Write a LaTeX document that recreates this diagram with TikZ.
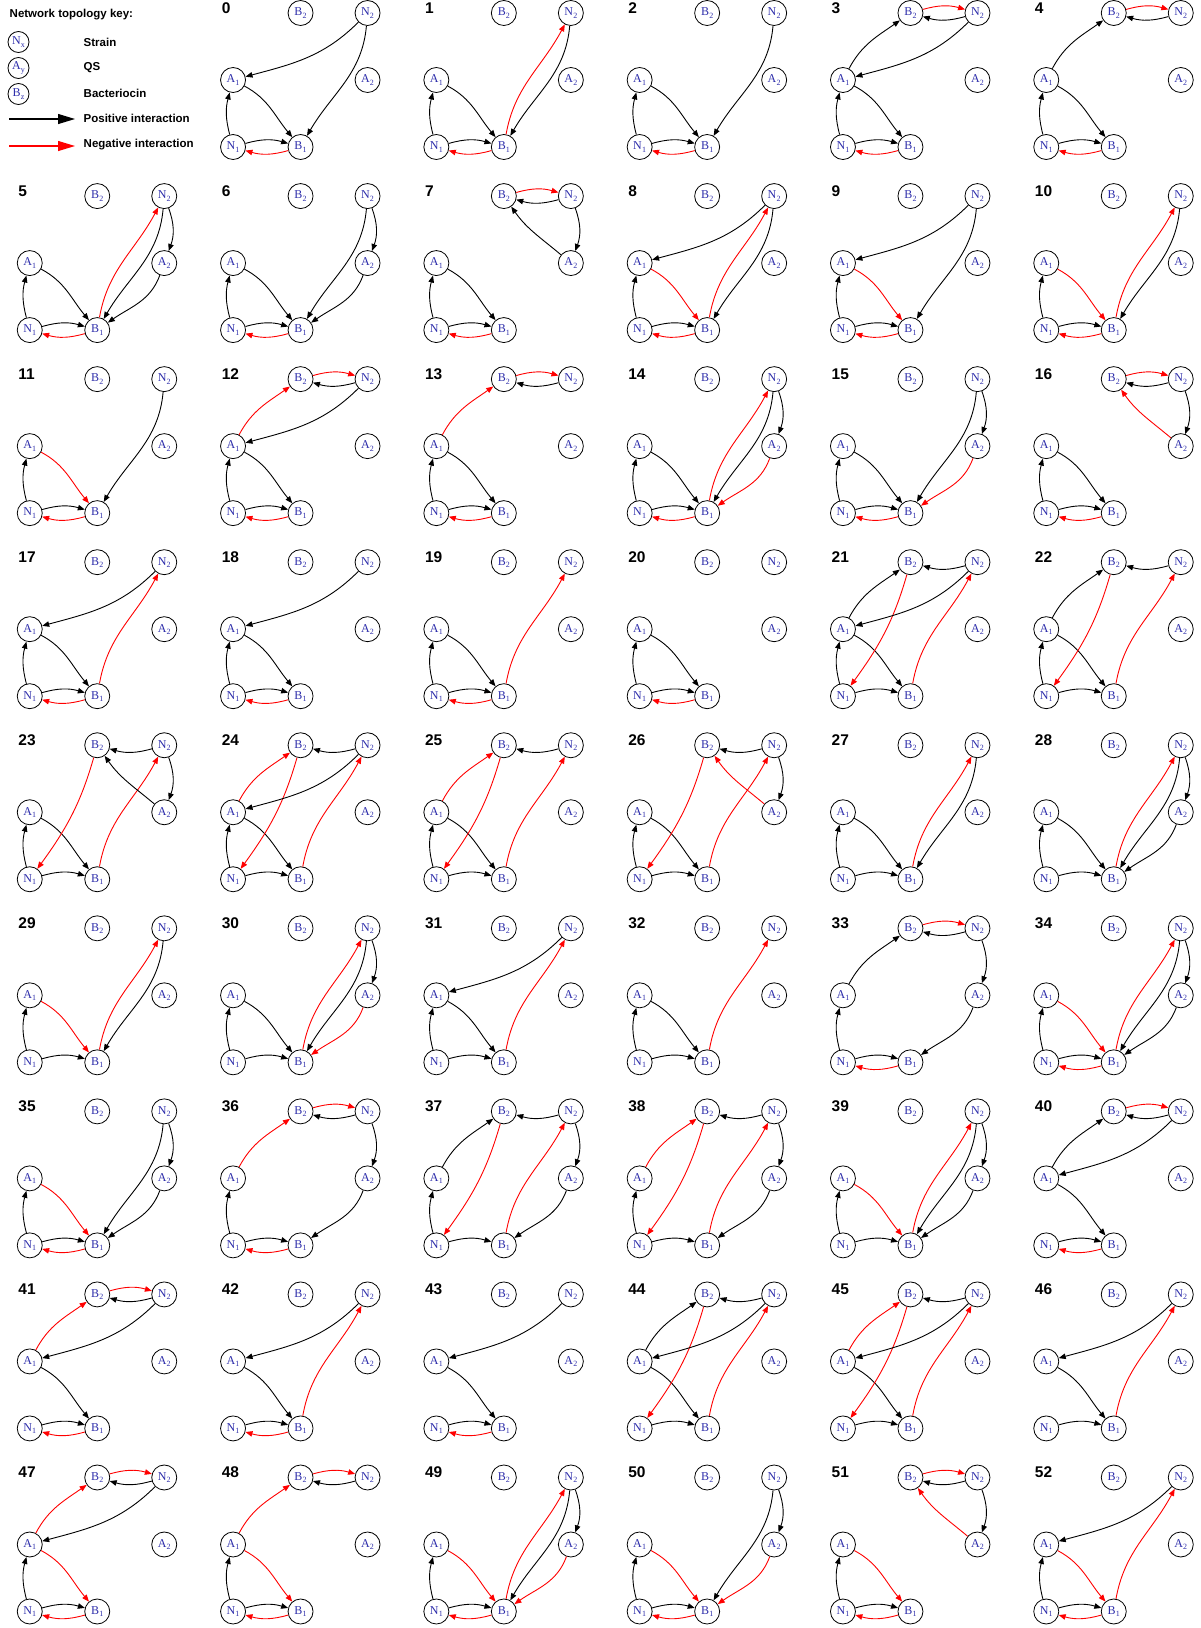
\documentclass[tikz,border=0pt]{standalone}
\usepackage{fontspec}
\setmainfont{Liberation Serif}
\newfontfamily\hv{Liberation Sans}
\usetikzlibrary{arrows.meta}
\definecolor{nodeblue}{RGB}{45,45,170}
\newcommand\sublab[2]{#1\kern0.2pt\raisebox{-0.4ex}{\fontsize{8}{8}\selectfont #2}}
\tikzset{
  nd/.style={circle,draw,line width=0.8pt,minimum size=25pt,inner sep=0pt,text=nodeblue,font=\fontsize{12}{12}\selectfont},
  keynd/.style={nd,minimum size=21pt},
  poslink/.style={line width=0.9pt,-{Triangle[length=7pt,width=5.5pt]}},
  neglink/.style={poslink,red},
  keyarrow/.style={line width=1.1pt,-{Triangle[length=17pt,width=10pt]}},
  numlab/.style={anchor=west,inner sep=0pt,font=\hv\bfseries\fontsize{15.5}{15.5}\selectfont},
  keytxt/.style={anchor=west,inner sep=0pt,font=\hv\bfseries\fontsize{11.5}{11.5}\selectfont},
}
% edge macros (#1 = panel prefix)
\newcommand\ena[1]{\draw[poslink] (#1N1) to[bend left=15] (#1A1);}
\newcommand\eab[1]{\draw[poslink] (#1A1) to[out=-28,in=130] (#1B1);}
\newcommand\eabR[1]{\draw[neglink] (#1A1) to[out=-28,in=130] (#1B1);}
\newcommand\enb[1]{\draw[poslink] (#1N1) to[bend left=16] (#1B1);}
\newcommand\ebn[1]{\draw[neglink] (#1B1) to[bend left=16] (#1N1);}
\newcommand\eXA[1]{\draw[poslink] (#1N2) to[out=-135,in=15] (#1A1);}
\newcommand\eXB[1]{\draw[poslink] (#1N2) to[out=-95,in=60] (#1B1);}
\newcommand\eBX[1]{\draw[neglink] (#1B1) to[out=80,in=-118] (#1N2);}
\newcommand\eXY[1]{\draw[poslink] (#1N2) to[bend left=20] (#1A2);}
\newcommand\eYB[1]{\draw[poslink] (#1A2) to[out=-110,in=35] (#1B1);}
\newcommand\eYBR[1]{\draw[neglink] (#1A2) to[out=-110,in=35] (#1B1);}
\newcommand\eZX[1]{\draw[neglink] (#1B2) to[bend left=16] (#1N2);}
\newcommand\eXZ[1]{\draw[poslink] (#1N2) to[bend left=16] (#1B2);}
\newcommand\eAZ[1]{\draw[poslink] (#1A1) to[out=62,in=-145] (#1B2);}
\newcommand\eAZR[1]{\draw[neglink] (#1A1) to[out=62,in=-145] (#1B2);}
\newcommand\eZN[1]{\draw[neglink] (#1B2) to[out=-106,in=54] (#1N1);}
\newcommand\eYZ[1]{\draw[poslink] (#1A2) to[out=140,in=-55] (#1B2);}
\newcommand\eYZR[1]{\draw[neglink] (#1A2) to[out=140,in=-55] (#1B2);}
\newcommand\panel[2]{%
  \pgfmathtruncatemacro\pidx{#1+1}%
  \pgfmathtruncatemacro\pcol{mod(\pidx,6)}%
  \pgfmathtruncatemacro\prow{(\pidx-\pcol)/6}%
  \pgfmathsetmacro\px{29.75+203.3*\pcol}%
  \pgfmathsetmacro\py{-80-183.06*\prow}%
  \begin{scope}[shift={(\px,\py)}]
    \node[numlab] (p#1L) at (-11.5,72) {#1};
    \node[nd] (p#1A1) at (0,0) {\sublab{A}{1}};
    \node[nd] (p#1B2) at (67.5,67) {\sublab{B}{2}};
    \node[nd] (p#1N2) at (134.5,67) {\sublab{N}{2}};
    \node[nd] (p#1A2) at (134.5,0) {\sublab{A}{2}};
    \node[nd] (p#1N1) at (0,-67) {\sublab{N}{1}};
    \node[nd] (p#1B1) at (67.5,-67) {\sublab{B}{1}};
    \foreach \e in {#2} {\csname e\e\endcsname{p#1}}
  \end{scope}}
\begin{document}
\begin{tikzpicture}[x=1pt,y=1pt]
\useasboundingbox (0,0) rectangle (1201,-1628);
% key
\node[keytxt] (kt) at (9.5,-15) {Network topology key:};
\node[keynd] (kN) at (18.5,-42) {\sublab{N}{x}};
\node[keynd] (kA) at (18.5,-68) {\sublab{A}{y}};
\node[keynd] (kB) at (18.5,-94) {\sublab{B}{z}};
\node[keytxt] (ks) at (83.5,-42) {Strain};
\node[keytxt] (kq) at (83.5,-68) {QS};
\node[keytxt] (kb) at (83.5,-93) {Bacteriocin};
\coordinate (kp1) at (9,-119);
\coordinate (kp2) at (75,-119);
\coordinate (kn1) at (9,-146);
\coordinate (kn2) at (75,-146);
\draw[keyarrow] (kp1) -- (kp2);
\draw[keyarrow,red] (kn1) -- (kn2);
\node[keytxt] (kpt) at (83.5,-118) {Positive interaction};
\node[keytxt] (knt) at (83.5,-145) {Negative interaction};
% panels
\panel{0}{na,ab,nb,bn,XA,XB}
\panel{1}{na,ab,nb,bn,BX,XB}
\panel{2}{na,ab,nb,bn,XB}
\panel{3}{na,ab,nb,bn,AZ,ZX,XZ,XA}
\panel{4}{na,ab,nb,bn,AZ,ZX,XZ}
\panel{5}{na,ab,nb,bn,BX,XB,XY,YB}
\panel{6}{na,ab,nb,bn,XB,XY,YB}
\panel{7}{na,ab,nb,bn,ZX,XZ,XY,YZ}
\panel{8}{na,abR,nb,bn,XA,BX,XB}
\panel{9}{na,abR,nb,bn,XA,XB}
\panel{10}{na,abR,nb,bn,BX,XB}
\panel{11}{na,abR,nb,bn,XB}
\panel{12}{na,ab,nb,bn,AZR,ZX,XZ,XA}
\panel{13}{na,ab,nb,bn,AZR,ZX,XZ}
\panel{14}{na,ab,nb,bn,BX,XB,XY,YBR}
\panel{15}{na,ab,nb,bn,XB,XY,YBR}
\panel{16}{na,ab,nb,bn,ZX,XZ,XY,YZR}
\panel{17}{na,ab,nb,bn,XA,BX}
\panel{18}{na,ab,nb,bn,XA}
\panel{19}{na,ab,nb,bn,BX}
\panel{20}{na,ab,nb,bn}
\panel{21}{na,ab,nb,AZ,XZ,ZN,XA,BX}
\panel{22}{na,ab,nb,AZ,XZ,ZN,BX}
\panel{23}{na,ab,nb,XZ,ZN,BX,XY,YZ}
\panel{24}{na,ab,nb,AZR,XZ,ZN,XA,BX}
\panel{25}{na,ab,nb,AZR,XZ,ZN,BX}
\panel{26}{na,ab,nb,XZ,ZN,BX,XY,YZR}
\panel{27}{na,ab,nb,BX,XB}
\panel{28}{na,ab,nb,BX,XB,XY,YB}
\panel{29}{na,abR,nb,BX,XB}
\panel{30}{na,ab,nb,BX,XB,XY,YBR}
\panel{31}{na,ab,nb,XA,BX}
\panel{32}{na,ab,nb,BX}
\panel{33}{na,nb,bn,AZ,ZX,XZ,XY,YB}
\panel{34}{na,abR,nb,bn,BX,XB,XY,YB}
\panel{35}{na,abR,nb,bn,XB,XY,YB}
\panel{36}{na,nb,bn,AZR,ZX,XZ,XY,YB}
\panel{37}{na,nb,AZ,XZ,ZN,BX,XY,YB}
\panel{38}{na,nb,AZR,XZ,ZN,BX,XY,YB}
\panel{39}{na,abR,nb,BX,XB,XY,YB}
\panel{40}{ab,nb,bn,AZ,ZX,XZ,XA}
\panel{41}{ab,nb,bn,AZR,ZX,XZ,XA}
\panel{42}{ab,nb,bn,XA,BX}
\panel{43}{ab,nb,bn,XA}
\panel{44}{ab,nb,AZ,XZ,ZN,XA,BX}
\panel{45}{ab,nb,AZR,XZ,ZN,XA,BX}
\panel{46}{ab,nb,XA,BX}
\panel{47}{na,abR,nb,bn,AZR,ZX,XZ,XA}
\panel{48}{na,abR,nb,bn,AZR,ZX,XZ}
\panel{49}{na,abR,nb,bn,BX,XB,XY,YBR}
\panel{50}{na,abR,nb,bn,XB,XY,YBR}
\panel{51}{na,abR,nb,bn,ZX,XZ,XY,YZR}
\panel{52}{na,abR,nb,bn,XA,BX}
\end{tikzpicture}
\end{document}
